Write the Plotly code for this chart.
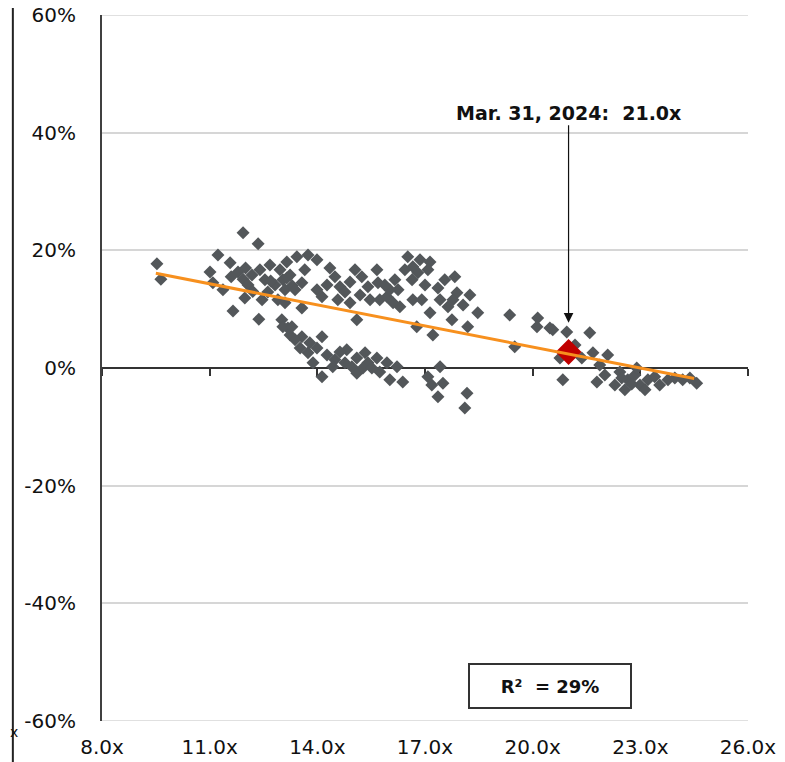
import plotly.graph_objects as go

# Forward P/E (x) vs subsequent return (%)
pe_x = [
    9.53, 9.64, 11.01, 11.23, 11.09, 11.57, 11.37, 11.65, 11.93, 12.35, 11.98, 12.37,
    12.46, 12.18, 12.40, 12.54, 12.68, 12.82, 12.62, 12.96, 13.04, 12.90, 13.15, 13.10,
    13.24, 13.01, 13.24, 13.18, 11.79, 11.93, 12.07, 12.20, 12.70, 13.30, 12.00, 11.60,
    13.43, 13.74, 13.99, 13.65, 13.57, 13.15, 13.38, 13.10, 13.57, 13.99, 14.35, 14.49,
    14.27, 14.63, 14.57, 14.13, 15.05, 14.91, 15.10, 15.24, 15.41, 15.66, 15.69, 15.47,
    15.74, 15.94, 16.16, 16.25, 16.52, 16.44, 16.66, 16.64, 16.30, 16.66, 16.11, 14.77,
    15.19, 16.02, 15.88, 14.91,
    13.04, 13.29, 13.57, 14.13, 13.52, 13.74, 13.99, 14.27, 14.49, 14.82, 14.77, 15.10,
    15.33, 15.41, 15.66, 15.94, 16.22, 16.02, 16.38, 14.13, 13.88, 14.43, 15.10, 15.27,
    15.74, 14.63, 14.96, 15.52, 13.38, 13.79,
    16.86, 17.14, 17.08, 16.80, 17.36, 17.83, 17.89, 17.78, 18.06, 17.64, 17.75, 18.19,
    18.47, 16.91, 17.14, 16.77, 17.22, 19.36, 19.50, 20.14, 20.12, 20.48, 17.42, 17.08,
    17.50, 17.19, 17.36, 18.17, 18.11, 17.00, 17.55, 17.42, 18.25,
    20.56, 20.95, 21.59, 21.68, 22.09, 21.87, 21.37, 20.84, 21.79, 20.76, 21.18, 22.43,
    22.65, 22.57, 22.85, 22.99, 23.21, 23.40, 23.54, 23.77, 23.96, 24.18, 24.38, 24.57,
    22.29, 23.13, 22.90, 22.01, 22.48, 22.76,
]
fwd_ret = [
    17.7, 15.1, 16.3, 19.2, 14.5, 17.9, 13.3, 9.7, 23.0, 21.1, 11.9, 8.3,
    11.6, 15.8, 16.7, 15.0, 17.5, 14.1, 12.9, 16.7, 15.0, 11.6, 18.0, 13.3,
    15.8, 8.2, 5.6, 6.8, 16.3, 15.1, 14.1, 13.0, 14.8, 14.0, 17.0, 15.5,
    18.9, 19.2, 18.4, 16.7, 14.5, 15.3, 13.3, 11.1, 10.2, 13.3, 17.0, 15.5,
    14.1, 13.8, 11.6, 12.1, 16.7, 11.1, 8.2, 15.5, 13.8, 16.7, 14.5, 11.6,
    11.6, 12.1, 15.0, 13.3, 18.9, 16.7, 17.2, 15.0, 10.4, 11.6, 11.1, 12.9,
    12.4, 13.3, 14.1, 14.6,
    7.0, 7.0, 5.3, 5.3, 3.4, 2.6, 3.4, 2.2, 1.4, 3.1, 0.9, 1.7,
    2.6, 0.9, 1.7, 0.9, 0.2, -2.0, -2.4, -1.5, 0.9, 0.2, -0.9, 0.0,
    -0.7, 2.7, 0.2, 0.0, 4.8, 4.3,
    18.4, 18.0, 16.7, 16.2, 13.6, 15.5, 12.8, 11.6, 10.7, 10.4, 8.2, 7.0,
    9.4, 11.6, 9.4, 7.0, 5.6, 9.0, 3.6, 8.5, 7.0, 6.8, 0.2, -1.5,
    -2.6, -2.9, -4.9, -4.3, -6.8, 14.1, 15.0, 11.6, 12.4,
    6.5, 6.1, 6.0, 2.6, 2.2, 0.5, 1.7, -2.0, -2.4, 1.7, 3.9, -0.7,
    -2.0, -3.7, -1.2, -2.9, -2.0, -1.5, -2.9, -2.0, -1.7, -2.0, -1.7, -2.6,
    -2.9, -3.7, 0.0, -1.2, -1.7, -2.7,
]

current_x = [21.0]
current_y = [2.7]
current_label = "Mar. 31, 2024:  21.0x"

trend_x = [9.5, 24.5]
trend_y = [16.1, -1.8]

r2_label = "R²  = 29%"

x_ticks = [8, 11, 14, 17, 20, 23, 26]
x_tick_text = ["8.0x", "11.0x", "14.0x", "17.0x", "20.0x", "23.0x", "26.0x"]
y_ticks = [-60, -40, -20, 0, 20, 40, 60]
y_tick_text = ["-60%", "-40%", "-20%", "0%", "20%", "40%", "60%"]

FONT = "DejaVu Sans, Liberation Sans, Arial, sans-serif"
GRAY = "#53575a"
GRID = "#d6d6d6"

fig = go.Figure()
fig.add_trace(go.Scatter(
    x=pe_x, y=fwd_ret, mode="markers",
    marker=dict(symbol="diamond", size=10, color=GRAY, line=dict(width=0)),
    hoverinfo="skip", showlegend=False))
fig.add_trace(go.Scatter(
    x=current_x, y=current_y, mode="markers",
    marker=dict(symbol="diamond", size=20, color="#c00000", line=dict(width=0)),
    hoverinfo="skip", showlegend=False))
fig.add_trace(go.Scatter(
    x=trend_x, y=trend_y, mode="lines",
    line=dict(color="#f7901e", width=3),
    hoverinfo="skip", showlegend=False))
# invisible trace to carry the zero-line axis
fig.add_trace(go.Scatter(
    x=[x_ticks[0]], y=[0], xaxis="x2", mode="markers",
    marker=dict(opacity=0), hoverinfo="skip", showlegend=False))

fig.update_layout(
    width=777, height=754,
    margin=dict(l=94, r=37, t=7, b=41, autoexpand=False),
    paper_bgcolor="white", plot_bgcolor="white",
    font=dict(family=FONT, size=20, color="#111111"),
    xaxis=dict(
        range=[8, 26], tickvals=x_ticks, ticktext=x_tick_text,
        showgrid=False, zeroline=False, showline=False, automargin=False,
        ticks="", ticklabelstandoff=12, ticklabeloverflow="allow",
        tickfont=dict(family=FONT, size=20, color="#111111"),
    ),
    xaxis2=dict(
        range=[8, 26], overlaying="x", anchor="free", position=0.5,
        tickvals=x_ticks, showticklabels=False, automargin=False,
        showgrid=False, zeroline=False, showline=True,
        linecolor="#333333", linewidth=2,
        ticks="outside", ticklen=7, tickwidth=2, tickcolor="#333333",
        layer="below traces",
    ),
    yaxis=dict(
        range=[-60, 60], tickvals=y_ticks, ticktext=y_tick_text,
        showgrid=True, gridcolor=GRID, gridwidth=1.5, automargin=False,
        zeroline=False, showline=True, linecolor="#404040", linewidth=2,
        ticks="", ticklabelstandoff=20, ticklabeloverflow="allow",
        tickfont=dict(family=FONT, size=20, color="#111111"),
    ),
)

# gridlines at the two ends of the value range (plotly omits them at the edges)
for yv in (y_ticks[0], y_ticks[-1]):
    fig.add_shape(type="line", xref="paper", yref="y", x0=0, x1=1, y0=yv, y1=yv,
                  line=dict(color=GRID, width=1.5), layer="below")

fig.add_annotation(
    x=current_x[0], y=7.7, ax=current_x[0], ay=43.4, axref="x", ayref="y",
    xref="x", yref="y",
    text="<b>" + current_label + "</b>",
    font=dict(family=FONT, size=19, color="#111111"),
    showarrow=True, arrowhead=2, arrowsize=1.6, arrowwidth=1.2,
    arrowcolor="#111111", bgcolor="rgba(0,0,0,0)")

fig.add_annotation(
    x=20.48, y=-54.0, xref="x", yref="y",
    text="<b>" + r2_label + "</b>",
    font=dict(family=FONT, size=18, color="#111111"),
    showarrow=False, width=158, height=40,
    bordercolor="#333333", borderwidth=2, borderpad=1, bgcolor="white")

# cropped frame edge at the left of the picture
fig.add_shape(type="line", xref="paper", yref="paper",
              x0=-0.138, x1=-0.138, y0=-0.06, y1=1.02,
              line=dict(color="#222222", width=2))
fig.add_annotation(x=-0.1455, y=-0.03, xref="paper", yref="paper",
                   text="x", showarrow=False, xanchor="left",
                   font=dict(family=FONT, size=14, color="#111111"))

fig.write_html("out.html")
